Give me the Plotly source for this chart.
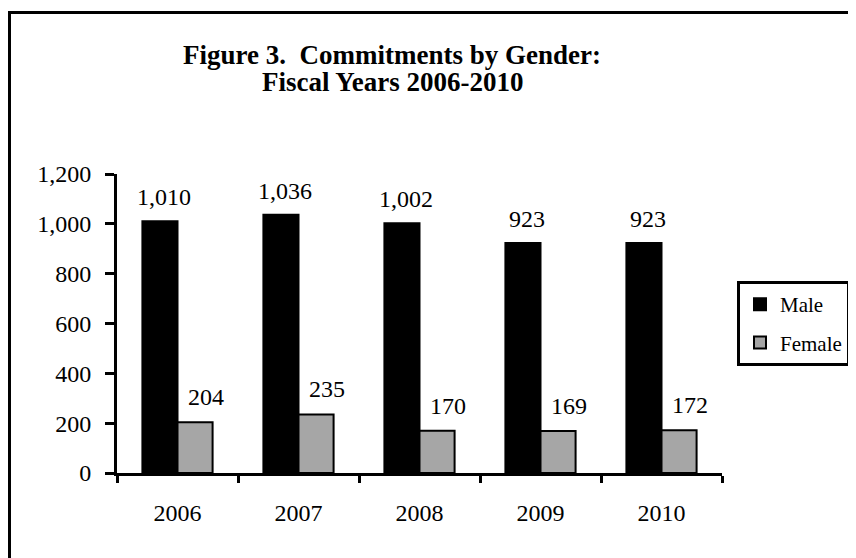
import plotly.graph_objects as go

years = ["2006", "2007", "2008", "2009", "2010"]
male = [1010, 1036, 1002, 923, 923]
female = [204, 235, 170, 169, 172]
title_lines = ["Figure 3.  Commitments by Gender:", "Fiscal Years 2006-2010"]

FONT = "Liberation Serif, Times New Roman, serif"
OFF = 8  # page body margin
W, H = 856 - OFF, 558 - OFF
# plot area in screen pixels: x 117..722, y 174..473
L, T = 117 - OFF, 174 - OFF
R, B = W - (722 - OFF), H - (473 - OFF)
pw, ph = W - L - R, H - T - B


def px(sx):
    return (sx - OFF - L) / pw


def py(sy):
    return (H - B - (sy - OFF)) / ph


fig = go.Figure()
fig.add_trace(go.Bar(x=years, y=male, name="Male", legendgroup="m",
                     marker=dict(color="black", line=dict(color="black", width=2))))
fig.add_trace(go.Bar(x=years, y=female, name="Female", legendgroup="f",
                     marker=dict(color="#a6a6a6", line=dict(color="black", width=2))))

ann = []
for i, v in enumerate(male):
    ann.append(dict(x=i, y=v, xref="x", yref="y", text=f"{v:,}", showarrow=False,
                    xshift=-14, yshift=24, yanchor="middle",
                    font=dict(family=FONT, size=24, color="black")))
for i, v in enumerate(female):
    ann.append(dict(x=i, y=v, xref="x", yref="y", text=f"{v:,}", showarrow=False,
                    xshift=28, yshift=25, yanchor="middle",
                    font=dict(family=FONT, size=24, color="black")))
for k, line in enumerate(title_lines):
    ann.append(dict(x=px(392), y=py(55 + 27 * k), xref="paper", yref="paper",
                    text=f"<b>{line}</b>", showarrow=False, xanchor="center", yanchor="middle",
                    font=dict(family=FONT, size=27, color="black")))

fig.add_shape(type="rect", xref="paper", yref="paper",
              x0=px(9.5), x1=px(880), y0=py(580), y1=py(12.5),
              line=dict(color="black", width=3), layer="below")

fig.update_layout(
    width=W, height=H,
    margin=dict(l=L, r=R, t=T, b=B, pad=0, autoexpand=False),
    paper_bgcolor="white", plot_bgcolor="white",
    barmode="group", bargap=0.42, bargroupgap=0,
    font=dict(family=FONT, size=24, color="black"),
    showlegend=True,
    legend=dict(x=px(737), y=py(281), xanchor="left", yanchor="top",
                bgcolor="white", bordercolor="black", borderwidth=3,
                font=dict(family=FONT, size=21, color="black"),
                tracegroupgap=8, itemwidth=30),
    annotations=ann,
)
fig.update_xaxes(type="category", range=[-0.5, len(years) - 0.5], showline=True,
                 linecolor="black", linewidth=3, automargin=False,
                 ticks="outside", tickson="boundaries", ticklen=7, tickwidth=3, tickcolor="black",
                 ticklabelstandoff=16, showgrid=False, zeroline=False, tickangle=0,
                 tickfont=dict(family=FONT, size=24, color="black"))
fig.update_yaxes(range=[0, 1200], dtick=200, tickformat=",d", showline=True, linecolor="black",
                 linewidth=3, ticks="outside", ticklen=9, tickwidth=3, tickcolor="black",
                 ticklabelstandoff=9, showgrid=False, zeroline=False, automargin=False,
                 tickfont=dict(family=FONT, size=24, color="black"))

fig.write_html("out.html")
